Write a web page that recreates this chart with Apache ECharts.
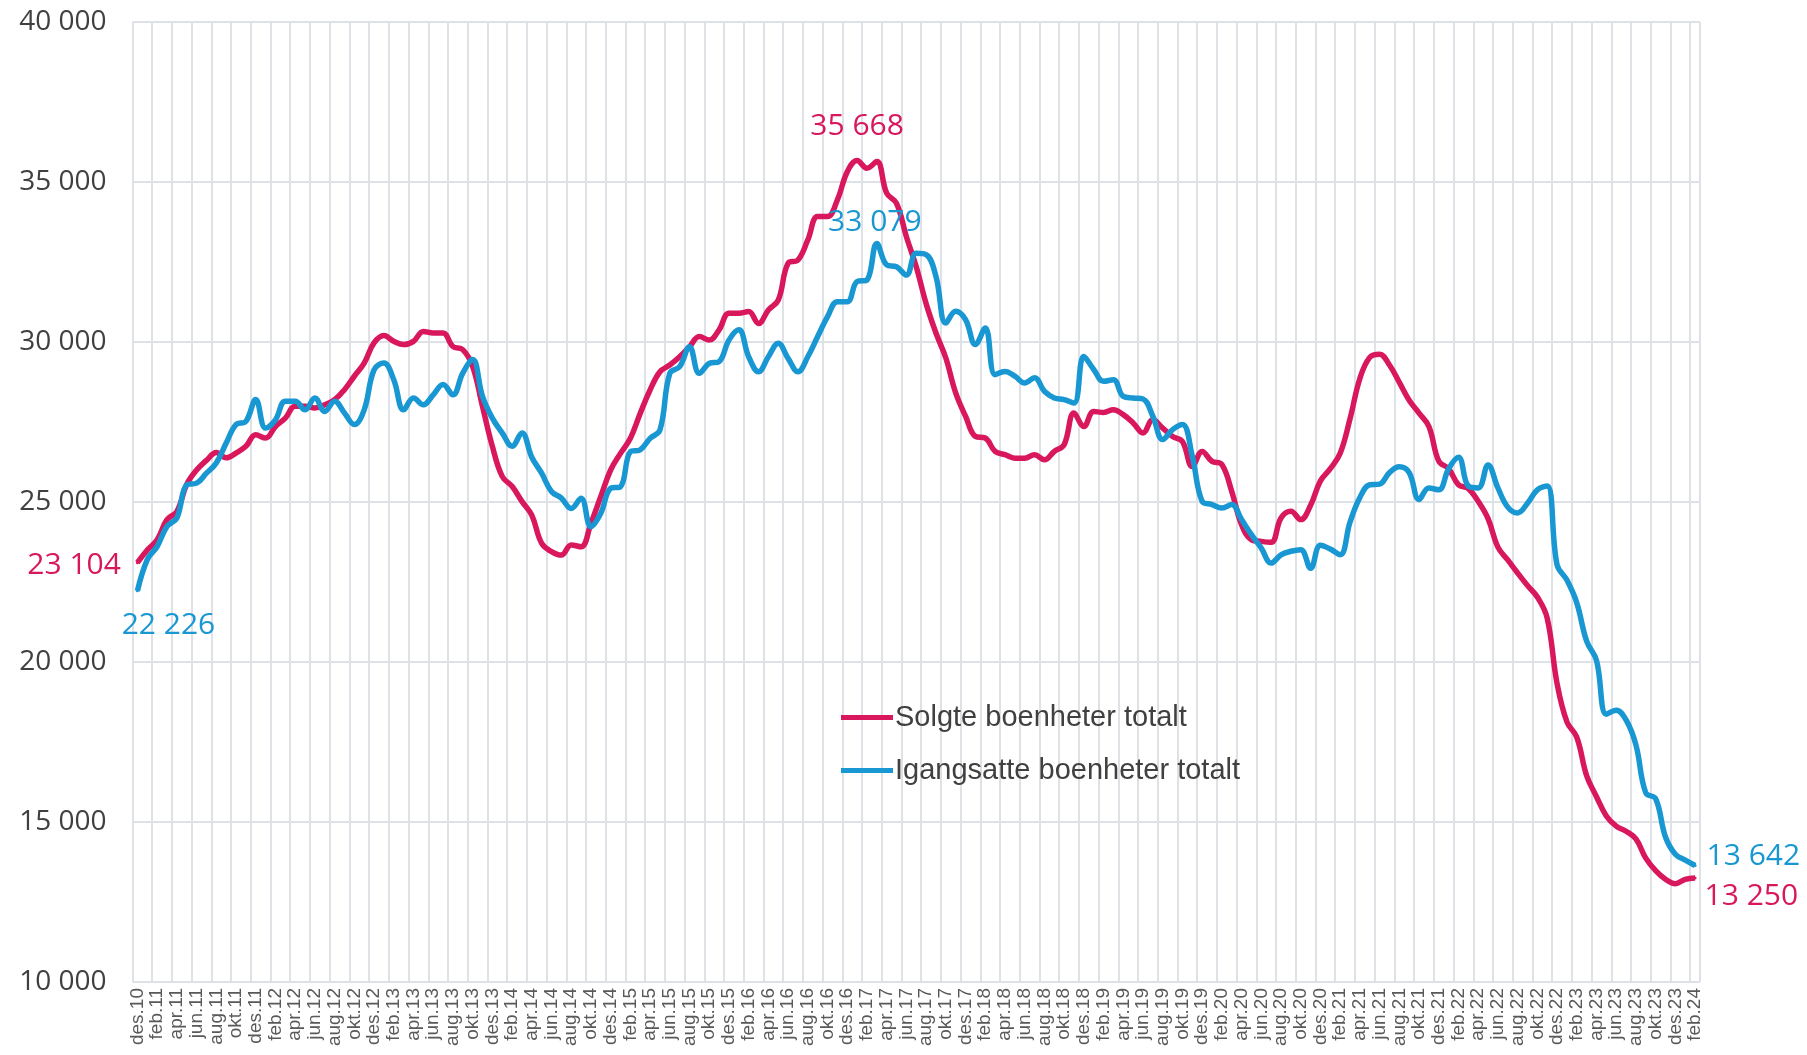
<!DOCTYPE html>
<html>
<head>
<meta charset="utf-8">
<title>Solgte og igangsatte boenheter</title>
<script src="https://cdn.jsdelivr.net/npm/echarts@6/dist/echarts.min.js"></script>
<style>
  html, body { margin: 0; padding: 0; background: #fff; }
  #chart { width: 1807px; height: 1055px; }
</style>
</head>
<body>
<div id="chart"></div>
<script>
// month labels des.10 .. feb.24
const monthNames = ['jan', 'feb', 'mar', 'apr', 'mai', 'jun', 'jul', 'aug', 'sep', 'okt', 'nov', 'des']
const categories = []
for (let k = 0; k < 159; k++) {
  const m = (11 + k) % 12
  const yr = 10 + Math.floor((11 + k) / 12)
  categories.push(monthNames[m] + '.' + String(yr).padStart(2, '0'))
}

const yTicks = [10000, 15000, 20000, 25000, 30000, 35000, 40000]

const solgte = [
  23104, 23500, 23820, 24450, 24700, 25550, 26000, 26300, 26550, 26380,
  26530, 26740, 27100, 27000, 27360, 27620, 27990, 27990, 27940, 28040,
  28200, 28510, 28930, 29340, 29970, 30200, 30020, 29920, 30020, 30330,
  30280, 30280, 29860, 29760, 29240, 27990, 26740, 25800, 25490, 25020,
  24590, 23710, 23450, 23340, 23660, 23600, 24330, 25170, 26000, 26520,
  26990, 27770, 28500, 29070, 29280, 29540, 29850, 30170, 30060, 30380,
  30900, 30900, 30950, 30580, 31000, 31310, 32460, 32560, 33190, 33920,
  33920, 34440, 35320, 35668, 35430, 35640, 34650, 34330, 33290, 32350,
  31200, 30280, 29500, 28410, 27680, 27050, 27000, 26580, 26480, 26370,
  26370, 26480, 26320, 26580, 26790, 27780, 27360, 27830, 27800, 27880,
  27730, 27470, 27160, 27570, 27310, 27050, 26890, 26110, 26580, 26270,
  26170, 25330, 24290, 23820, 23770, 23740, 24500, 24710, 24450, 24900,
  25660, 26040, 26520, 27600, 28860, 29520, 29620, 29280, 28740, 28180,
  27780, 27360, 26280, 26040, 25540, 25420, 25020, 24480, 23590, 23190,
  22780, 22390, 22030, 21370, 19330, 18130, 17650, 16450, 15790, 15190,
  14870, 14710, 14470, 13870, 13480, 13210, 13070, 13210, 13250
]

const igangsatte = [
  22226, 23200, 23610, 24240, 24500, 25540, 25590, 25900, 26220, 26840,
  27420, 27520, 28200, 27310, 27570, 28150, 28150, 27880, 28250, 27830,
  28150, 27780, 27420, 27880, 29130, 29340, 28820, 27880, 28250, 28040,
  28350, 28670, 28350, 29030, 29450, 28300, 27620, 27160, 26740, 27160,
  26400, 25900, 25330, 25120, 24800, 25120, 24230, 24650, 25430, 25480,
  26570, 26630, 26990, 27250, 29020, 29230, 29850, 29020, 29330, 29390,
  30060, 30380, 29540, 29070, 29540, 29960, 29490, 29070, 29540, 30170,
  30790, 31260, 31260, 31890, 31940, 33079, 32410, 32350, 32090, 32770,
  32730, 32050, 30590, 30960, 30700, 29920, 30440, 28980, 29080, 28930,
  28720, 28880, 28460, 28250, 28200, 28090, 29550, 29140, 28770, 28820,
  28300, 28250, 28220, 27680, 26950, 27260, 27420, 26430, 25020, 24920,
  24810, 24920, 24450, 23980, 23560, 23090, 23350, 23460, 23510, 22930,
  23650, 23530, 23350, 24370, 25140, 25540, 25560, 25920, 26100, 25920,
  25080, 25440, 25380, 26040, 26400, 25500, 25440, 26160, 25440, 24840,
  24660, 24960, 25380, 25500, 23040, 22560, 21850, 20650, 20050, 18370,
  18490, 18190, 17410, 15910, 15730, 14530, 13990, 13810, 13642
]

const RED = '#D8175C'
const BLUE = '#1897D3'
const GRID = '#DEE1E6'

const fmt = v => String(v).replace(/\B(?=(\d{3})+(?!\d))/g, ' ')

const labelFont = { fontFamily: 'Open Sans', fontSize: 30 }

// attach value labels to a few marked points (tiny symbol so the label gets drawn)
const withLabels = (values, color, marks) =>
  values.map((v, i) => {
    const m = marks[i]
    if (!m) return v
    return {
      value: v,
      symbol: 'circle',
      symbolSize: 3,
      itemStyle: { color: color, borderWidth: 0 },
      label: Object.assign({ show: true, color: color, formatter: p => fmt(p.value) }, labelFont, m)
    }
  })

const solgteData = withLabels(solgte, RED, {
  0: { position: 'left', distance: 15, offset: [0, 3] },
  73: { position: 'top', distance: 18 },
  158: { position: 'right', distance: 8, offset: [0, 18] }
})

const igangData = withLabels(igangsatte, BLUE, {
  0: { position: 'bottom', distance: 18, offset: [31, 0] },
  75: { position: 'top', distance: 5, offset: [-2, 0] },
  158: { position: 'right', distance: 10, offset: [0, -9] }
})

const chart = echarts.init(document.getElementById('chart'), null, { renderer: 'canvas' })

chart.setOption({
  backgroundColor: '#fff',
  animation: false,
  grid: { left: 132.5, right: 107, top: 22, bottom: 73, containLabel: false },
  legend: {
    orient: 'vertical',
    left: 836,
    top: 698,
    itemWidth: 52,
    itemHeight: 5,
    itemGap: 24,
    icon: 'rect',
    textStyle: { fontFamily: 'Liberation Sans', fontSize: 29, color: '#404040', padding: [0, 0, 0, -3] },
    data: ['Solgte boenheter totalt', 'Igangsatte boenheter totalt']
  },
  xAxis: {
    type: 'category',
    data: categories,
    boundaryGap: true,
    axisLine: { show: false },
    axisTick: { show: false },
    axisLabel: {
      interval: 1,
      rotate: 90,
      margin: 6,
      fontFamily: 'Liberation Sans',
      fontSize: 19,
      color: '#595959'
    },
    splitLine: { show: true, interval: 1, lineStyle: { color: GRID, width: 2 } }
  },
  yAxis: {
    type: 'value',
    min: yTicks[0],
    max: yTicks[yTicks.length - 1],
    interval: 5000,
    axisLine: { show: false },
    axisTick: { show: false },
    axisLabel: {
      margin: 26,
      fontFamily: 'Open Sans',
      fontSize: 28,
      color: '#404040',
      formatter: v => fmt(v)
    },
    splitLine: { show: true, lineStyle: { color: GRID, width: 2 } }
  },
  series: [
    {
      name: 'Solgte boenheter totalt',
      type: 'line',
      data: solgteData,
      smooth: 0.4,
      symbol: 'none',
      showSymbol: true,
      showAllSymbol: true,
      color: RED,
      lineStyle: { color: RED, width: 5.5 },
      emphasis: { disabled: true },
      z: 3
    },
    {
      name: 'Igangsatte boenheter totalt',
      type: 'line',
      data: igangData,
      smooth: 0.4,
      symbol: 'none',
      showSymbol: true,
      showAllSymbol: true,
      color: BLUE,
      lineStyle: { color: BLUE, width: 5.5 },
      emphasis: { disabled: true },
      z: 4
    }
  ]
})
</script>
</body>
</html>
